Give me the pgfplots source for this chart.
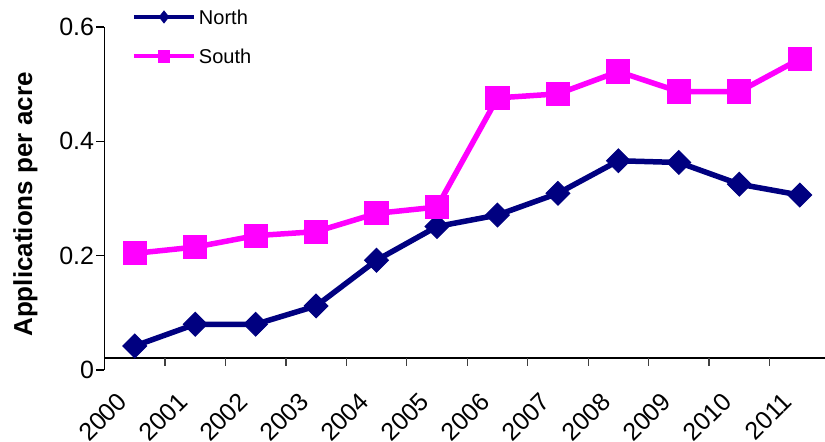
\documentclass[border=0pt]{standalone}
\usepackage{fontspec}
\setmainfont{Liberation Sans}
\usepackage{pgfplots}
\pgfplotsset{compat=1.18}

\definecolor{northc}{HTML}{000080}
\definecolor{southc}{HTML}{FF00FF}

\begin{document}
\begin{tikzpicture}
\useasboundingbox (-52.25pt,-36pt) rectangle (360.25pt,185pt);
\begin{axis}[
  at={(0pt,0pt)}, anchor=south west,
  scale only axis,
  width=362.75pt, height=171.5pt,
  xmin=-0.5, xmax=11.5,
  ymin=0, ymax=0.6,
  clip=false,
  axis y line*=left,
  axis x line*=bottom,
  x axis line style={draw=none},
  y axis line style={line width=0.65pt, black},
  ytick={0,0.2,0.4,0.6},
  yticklabel style={font=\fontsize{12.5}{14}\selectfont, inner sep=0pt, xshift=-1pt},
  /pgf/number format/assume math mode=true,
  tick align=outside,
  major tick length=4pt,
  ytick style={line width=0.65pt, black},
  xtick={0,...,11},
  xticklabels={2000,2001,2002,2003,2004,2005,2006,2007,2008,2009,2010,2011},
  xtick style={draw=none},
  xticklabel style={font=\fontsize{12.5}{14}\selectfont, anchor=east,
    inner sep=0pt, xshift=-6pt, yshift=-9.5pt, rotate=45},
  ylabel={\bfseries Applications per acre},
  ylabel style={font=\fontsize{13}{15}\selectfont, anchor=center, inner sep=0pt,
    at={(axis description cs:-0.1089,0.4825)}},
  legend style={draw=none, fill=none, inner sep=0pt, outer sep=0pt,
    font=\fontsize{10}{12}\selectfont, row sep=9.5pt,
    nodes={inner sep=1.5pt, text height=7.2pt, text depth=0pt},
    at={(axis description cs:0.0379,1.059)}, anchor=north west},
  legend cell align=left,
]
% x axis line sits a little above zero, with outward category separators
\draw[line width=0.65pt, black] (axis cs:-0.5,0.021) -- (axis cs:11.5,0.021);
\pgfplotsinvokeforeach{0.5,1.5,...,11.5}{
  \draw[line width=0.65pt, black!75] (axis cs:#1,0.021) -- ++(0pt,-4pt);
}

% North
\addplot[northc, line width=2.75pt, mark=square*, mark size=4.2pt,
  mark options={rotate=45, solid, line width=0.5pt}, forget plot]
  coordinates {
  (0,0.042) (1,0.080) (2,0.080) (3,0.112) (4,0.192) (5,0.251)
  (6,0.271) (7,0.309) (8,0.366) (9,0.363) (10,0.325) (11,0.306)
  };
% South
\addplot[southc, line width=2.75pt, mark=square*, mark size=5.8pt,
  mark options={solid, line width=0.5pt}, forget plot]
  coordinates {
  (0,0.204) (1,0.215) (2,0.235) (3,0.242) (4,0.274) (5,0.285)
  (6,0.476) (7,0.483) (8,0.522) (9,0.487) (10,0.487) (11,0.544)
  };

% legend samples: a 30pt line with one small mark in its middle
\addlegendimage{legend image code/.code={
  \draw[northc, line width=2pt] (0pt,0pt) -- (30pt,0pt);
  \fill[northc] (15pt,3pt) -- (17.4pt,0pt) -- (15pt,-3pt) -- (12.6pt,0pt) -- cycle;}}
\addlegendentry{North}
\addlegendimage{legend image code/.code={
  \draw[southc, line width=2pt] (0pt,0pt) -- (30pt,0pt);
  \fill[southc] (12.1pt,-2.9pt) rectangle (17.9pt,2.9pt);}}
\addlegendentry{South}
\end{axis}
\end{tikzpicture}
\end{document}
